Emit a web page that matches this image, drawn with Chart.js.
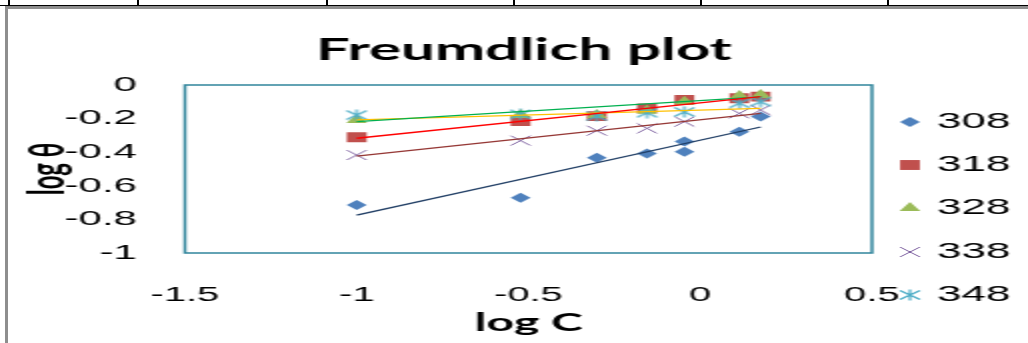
<!DOCTYPE html>
<html lang="en">
<head>
<meta charset="UTF-8">
<title>Freumdlich plot</title>
<script src="https://cdn.jsdelivr.net/npm/chart.js@4.4.1/dist/chart.umd.min.js"></script>
<style>
  html, body { margin: 0; padding: 0; background: #fff; }
  .sheet { position: relative; width: 1028px; height: 343px; overflow: hidden; }
  .rule { position: absolute; background: #000; }
  .frame { position: absolute; background: #8e8e8e; }
  #freundlich { position: absolute; left: 0; top: 0; }
</style>
</head>
<body>
<div class="sheet">
  <div class="rule" style="left:0;top:5px;width:1028px;height:1px"></div>
  <div class="rule" style="left:8px;top:0;width:2px;height:5px"></div>
  <div class="rule" style="left:137px;top:0;width:2px;height:5px"></div>
  <div class="rule" style="left:326px;top:0;width:2px;height:5px"></div>
  <div class="rule" style="left:513px;top:0;width:2px;height:5px"></div>
  <div class="rule" style="left:700px;top:0;width:2px;height:5px"></div>
  <div class="rule" style="left:887px;top:0;width:2px;height:5px"></div>
  <div class="frame" style="left:5px;top:6px;right:0;height:3px"></div>
  <div class="frame" style="left:5px;top:6px;width:3px;bottom:0"></div>
  <!-- chart is drawn at half width and stretched, like the pasted excel picture -->
  <canvas id="freundlich" width="514" height="343" style="width:1028px;height:343px"></canvas>
</div>

<script>
    // log C for each run (308 K has a repeated point near log C = -0.05)
    const logC = [-1, -0.523, -0.301, -0.155, -0.046, 0.114, 0.176];
    const logC308 = [-1, -0.523, -0.301, -0.155, -0.046, -0.046, 0.114, 0.176];

    // log theta
    const theta308 = [-0.714, -0.671, -0.433, -0.407, -0.337, -0.397, -0.278, -0.188];
    const theta318 = [-0.311, -0.214, -0.185, -0.139, -0.089, -0.079, -0.069];
    const theta328 = [-0.208, -0.179, -0.179, -0.153, -0.099, -0.065, -0.060];
    const theta338 = [-0.417, -0.331, -0.272, -0.258, -0.218, -0.169, -0.149];
    const theta348 = [-0.179, -0.175, -0.185, -0.165, -0.160, -0.109, -0.099];

    // linear trendlines, drawn between the first and last log C
    const fitX = [-1, 0.176];
    const fit308 = [-0.774, -0.250];
    const fit318 = [-0.317, -0.069];
    const fit328 = [-0.218, -0.071];
    const fit338 = [-0.424, -0.169];
    const fit348 = [-0.208, -0.139];

    const temps = ['308', '318', '328', '338', '348'];

    const pts = (xs, ys) => xs.map((x, i) => ({ x, y: ys[i] }));

    // excel style asterisk: vertical bar plus an x
    const asterisk = (color) => {
        const c = document.createElement('canvas');
        c.width = 12;
        c.height = 12;
        const g = c.getContext('2d');
        g.strokeStyle = color;
        g.lineWidth = 1.2;
        g.beginPath();
        g.moveTo(6, 0.5); g.lineTo(6, 11.5);
        g.moveTo(1, 1.5); g.lineTo(11, 10.5);
        g.moveTo(11, 1.5); g.lineTo(1, 10.5);
        g.stroke();
        return c;
    };

    const markers = (label, data, color, style, radius, order, border) => ({
        label,
        data,
        isMarker: true,
        showLine: false,
        pointStyle: style,
        pointRadius: radius,
        backgroundColor: color,
        borderColor: color,
        pointBorderWidth: border || 0,
        borderWidth: border || 0,
        order
    });

    const trend = (ys, color) => ({
        label: '',
        data: pts(fitX, ys),
        showLine: true,
        pointRadius: 0,
        borderColor: color,
        borderWidth: 1.3,
        order: 0
    });

    const tickFont = (size) => ({ family: "'Liberation Sans', Arial, sans-serif", size });
    const boldFont = (size) => ({ family: "Lato, 'DejaVu Sans', sans-serif", size, weight: 'bold' });
    const plainTick = (v) => String(Number(v.toFixed(1)));

    const plotFrame = {
        id: 'plotFrame',
        beforeDatasetsDraw(chart) {
            const { ctx, chartArea: a } = chart;
            ctx.save();
            ctx.strokeStyle = '#31859C';
            ctx.lineWidth = 1.5;
            ctx.strokeRect(a.left, a.top, a.right - a.left, a.bottom - a.top);
            ctx.restore();
        }
    };

    const legendRows = [122, 165, 208, 252, 295];
    const sideLegend = {
        id: 'sideLegend',
        afterDraw(chart) {
            const ctx = chart.ctx;
            const sets = chart.data.datasets.filter(d => d.isMarker);
            ctx.save();
            sets.forEach((ds, i) => {
                const y = legendRows[i];
                ctx.fillStyle = ds.backgroundColor;
                ctx.strokeStyle = ds.borderColor;
                ctx.lineWidth = ds.borderWidth;
                Chart.helpers.drawPoint(ctx, {
                    pointStyle: ds.pointStyle,
                    radius: ds.pointRadius,
                    rotation: 0,
                    borderWidth: ds.borderWidth
                }, 455, y);
                ctx.fillStyle = '#000';
                ctx.font = "22px 'Liberation Sans', Arial, sans-serif";
                ctx.textAlign = 'left';
                ctx.textBaseline = 'middle';
                ctx.fillText(ds.label, 468.5, y);
            });
            ctx.restore();
        }
    };

    new Chart(document.getElementById('freundlich'), {
        type: 'scatter',
        data: {
            datasets: [
                markers(temps[0], pts(logC308, theta308), '#4F81BD', 'rectRot', 5, 5),
                markers(temps[1], pts(logC, theta318), '#C0504D', 'rect', 7, 4),
                markers(temps[2], pts(logC, theta328), '#9BBB59', 'triangle', 6, 3),
                markers(temps[3], pts(logC, theta338), '#8064A2', 'crossRot', 7, 2, 1),
                markers(temps[4], pts(logC, theta348), '#4BACC6', asterisk('#4BACC6'), 6, 1),
                trend(fit308, '#1F3D64'),
                trend(fit318, '#FF0000'),
                trend(fit328, '#00B050'),
                trend(fit338, '#953735'),
                trend(fit348, '#FFC000')
            ]
        },
        options: {
            responsive: false,
            devicePixelRatio: 1,
            animation: false,
            events: [],
            layout: { padding: { left: 10, right: 0, top: 0, bottom: 0 } },
            plugins: {
                legend: { display: false },
                tooltip: { enabled: false },
                title: {
                    display: true,
                    text: 'Freumdlich plot',
                    color: '#000',
                    font: boldFont(30),
                    padding: { top: 32, bottom: 17 }
                }
            },
            scales: {
                x: {
                    type: 'linear',
                    position: 'bottom',
                    min: -1.5,
                    max: 0.5,
                    grid: { display: false, drawTicks: false },
                    border: { display: false },
                    ticks: { stepSize: 0.5, padding: 30, color: '#000', font: tickFont(20), callback: plainTick },
                    title: {
                        display: true,
                        text: 'log C',
                        color: '#000',
                        font: boldFont(24),
                        padding: { top: 0, bottom: 5.6 }
                    },
                    afterFit: (s) => { s.height = 90; }
                },
                y: {
                    type: 'linear',
                    position: 'left',
                    min: -1,
                    max: 0,
                    grid: { display: false, drawTicks: false },
                    border: { display: false },
                    ticks: { stepSize: 0.2, padding: 24, color: '#000', font: tickFont(21), callback: plainTick },
                    title: {
                        display: true,
                        text: 'log θ',
                        color: '#000',
                        font: boldFont(24),
                        padding: { top: 0, bottom: 0 }
                    },
                    afterFit: (s) => { s.width = 82.5; }
                },
                // empty right box, keeps room for the legend
                side: {
                    type: 'linear',
                    position: 'right',
                    grid: { display: false, drawTicks: false },
                    border: { display: false },
                    ticks: { display: false },
                    afterFit: (s) => { s.width = 78; }
                }
            }
        },
        plugins: [plotFrame, sideLegend]
    });
</script>
</body>
</html>
